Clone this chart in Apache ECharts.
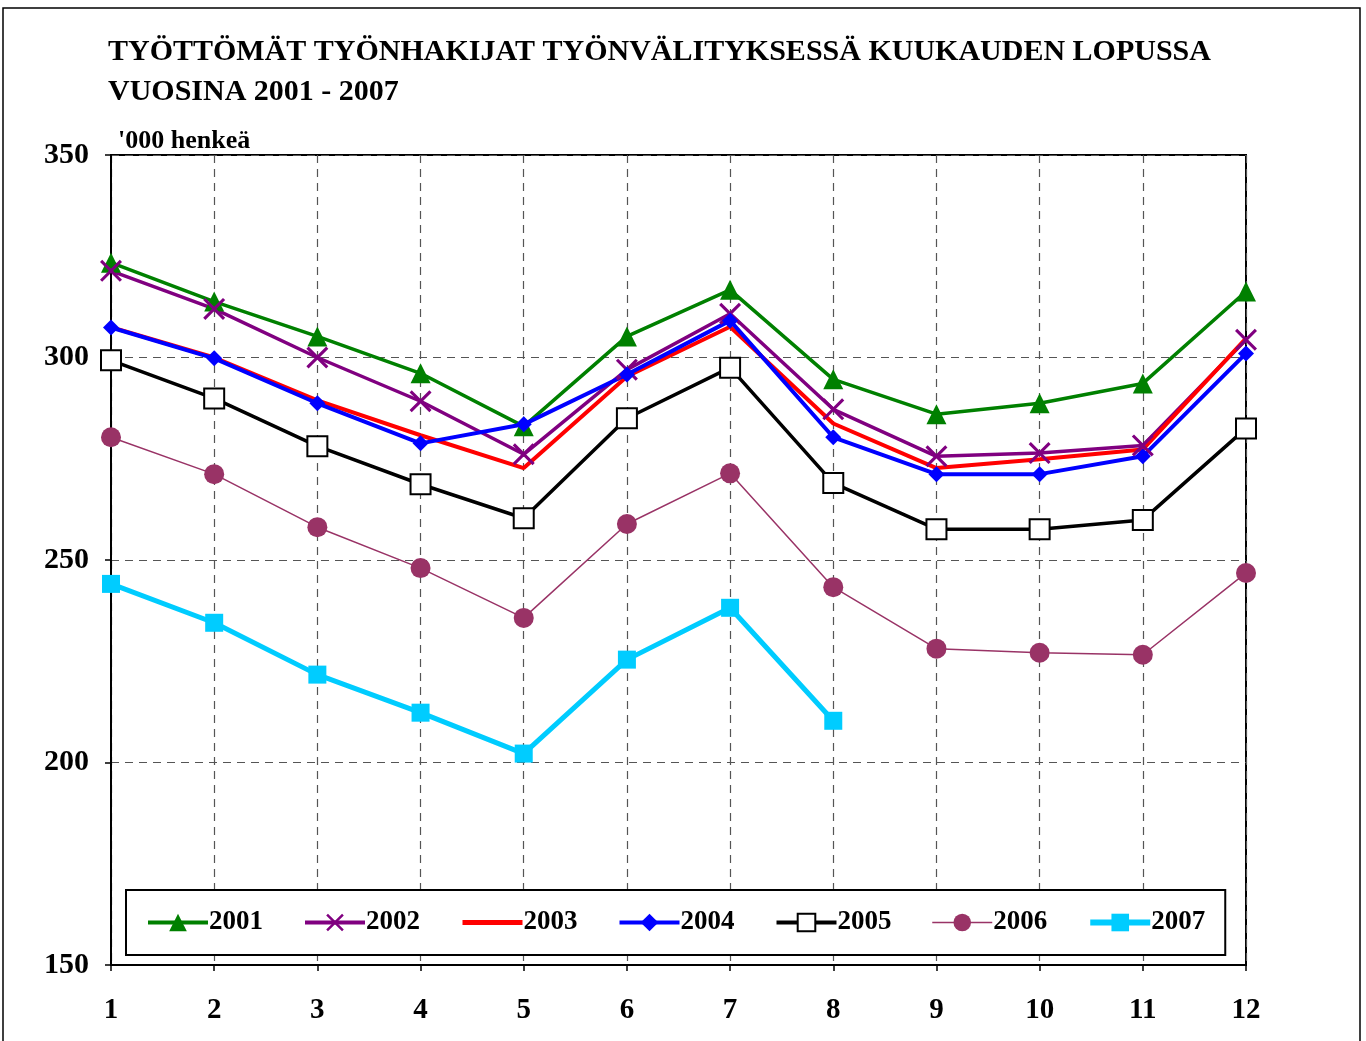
<!DOCTYPE html>
<html>
<head>
<meta charset="utf-8">
<script src="https://cdn.jsdelivr.net/npm/echarts@6/dist/echarts.min.js"></script>
<style>
  html, body { margin: 0; padding: 0; background: #fff; }
  #chart { width: 1366px; height: 1041px; }
</style>
</head>
<body>
<div id="chart"></div>
<script>
// kuukaudet
const months = ['1', '2', '3', '4', '5', '6', '7', '8', '9', '10', '11', '12'];

// '000 henkeä, luettu kuvasta
const y2001 = [323.4, 313.8, 305.2, 296.1, 283.0, 305.2, 316.7, 294.6, 286.0, 288.7, 293.6, 316.3];
const y2002 = [321.4, 312.0, 300.0, 289.2, 276.1, 297.0, 310.8, 287.2, 275.6, 276.4, 278.3, 304.4];
const y2003 = [307.5, 300.0, 289.4, 280.8, 272.7, 295.3, 307.6, 283.7, 272.7, 274.9, 277.3, 304.7];
const y2004 = [307.4, 299.8, 288.7, 278.8, 283.5, 295.8, 309.1, 280.3, 271.2, 271.2, 275.6, 301.0];
const y2005 = [299.3, 289.9, 278.1, 268.7, 260.3, 285.0, 297.5, 269.0, 257.6, 257.6, 259.9, 282.5];
const y2006 = [280.3, 271.2, 258.1, 248.0, 235.7, 258.9, 271.4, 243.3, 228.1, 227.1, 226.6, 246.8];
const y2007 = [244.1, 234.5, 221.7, 212.3, 202.2, 225.4, 238.2, 210.3];

const yTicks = { min: 150, max: 350, step: 50 };

const serif = '"Liberation Serif", "Times New Roman", serif';
const crossPath = 'path://M0,1L1,0L10,9L9,10Z M9,0L10,1L1,10L0,9Z';

const chart = echarts.init(document.getElementById('chart'));

function line(name, data, color, width, symbol, size, extra) {
  return Object.assign({
    name: name,
    type: 'line',
    data: data,
    symbol: symbol,
    symbolSize: size,
    showSymbol: symbol !== 'none',
    color: color,
    lineStyle: { color: color, width: width },
    itemStyle: { color: color },
    emphasis: { disabled: true },
    animation: false
  }, extra || {});
}

let option = {
  backgroundColor: '#fff',
  title: {
    text: 'TYÖTTÖMÄT TYÖNHAKIJAT TYÖNVÄLITYKSESSÄ KUUKAUDEN LOPUSSA\nVUOSINA 2001 - 2007',
    left: 103,
    top: 27,
    textStyle: {
      fontFamily: serif,
      fontWeight: 'bold',
      fontSize: 30,
      lineHeight: 40,
      color: '#000'
    }
  },
  grid: {
    left: 111,
    right: 120,
    top: 155,
    bottom: 76,
    show: true,
    borderColor: '#000',
    borderWidth: 2,
    containLabel: false
  },
  legend: {
    left: 126,
    top: 890,
    padding: [19, 20, 19, 20],
    itemGap: 40,
    itemWidth: 60,
    itemHeight: 22,
    backgroundColor: '#fff',
    borderColor: '#000',
    borderWidth: 2,
    textStyle: {
      fontFamily: serif,
      fontWeight: 'bold',
      fontSize: 27,
      color: '#000',
      padding: [0, 0, 0, -4]
    },
    data: [
      { name: '2001', lineStyle: { width: 4 } },
      { name: '2002', lineStyle: { width: 4 } },
      { name: '2003', lineStyle: { width: 5 }, itemStyle: { opacity: 0 } },
      { name: '2004', lineStyle: { width: 4 } },
      { name: '2005', lineStyle: { width: 4 } },
      { name: '2006', lineStyle: { width: 1.5 } },
      { name: '2007', lineStyle: { width: 6 } }
    ]
  },
  xAxis: {
    type: 'category',
    data: months,
    boundaryGap: false,
    axisLine: { lineStyle: { color: '#000', width: 2 } },
    axisTick: { show: true, length: 6, alignWithLabel: true, lineStyle: { color: '#000', width: 1.5 } },
    axisLabel: {
      margin: 31,
      fontFamily: serif,
      fontWeight: 'bold',
      fontSize: 29,
      color: '#000'
    },
    splitLine: { show: true, lineStyle: { color: '#555', type: [8, 6], width: 1.2 } }
  },
  yAxis: {
    type: 'value',
    min: yTicks.min,
    max: yTicks.max,
    interval: yTicks.step,
    axisLine: { show: true, lineStyle: { color: '#000', width: 2 } },
    axisTick: { show: true, length: 6, lineStyle: { color: '#000', width: 1.5 } },
    axisLabel: {
      margin: 22,
      fontFamily: serif,
      fontWeight: 'bold',
      fontSize: 30,
      color: '#000'
    },
    splitLine: { show: true, lineStyle: { color: '#555', type: [8, 6], width: 1.2 } }
  },
  graphic: [
    {
      type: 'rect',
      shape: { x: 3, y: 8, width: 1357, height: 1060 },
      style: { fill: 'none', stroke: '#000', lineWidth: 1.5 },
      silent: true
    },
    {
      type: 'text',
      left: 118,
      top: 128,
      style: {
        text: "'000 henkeä",
        font: 'bold 26px ' + serif,
        fill: '#000'
      }
    }
  ],
  series: [
    line('2001', y2001, '#008000', 3.5, 'triangle', 20),
    line('2002', y2002, '#800080', 3.5, crossPath, 22),
    line('2003', y2003, '#ff0000', 4, 'none', 0),
    line('2004', y2004, '#0000ff', 4, 'diamond', 16),
    line('2005', y2005, '#000000', 3.5, 'rect', 20, {
      itemStyle: { color: '#fff', borderColor: '#000', borderWidth: 2 }
    }),
    line('2006', y2006, '#993366', 1.5, 'circle', 20),
    line('2007', y2007, '#00ccff', 5, 'rect', 18)
  ]
};

chart.setOption(option);
</script>
</body>
</html>
